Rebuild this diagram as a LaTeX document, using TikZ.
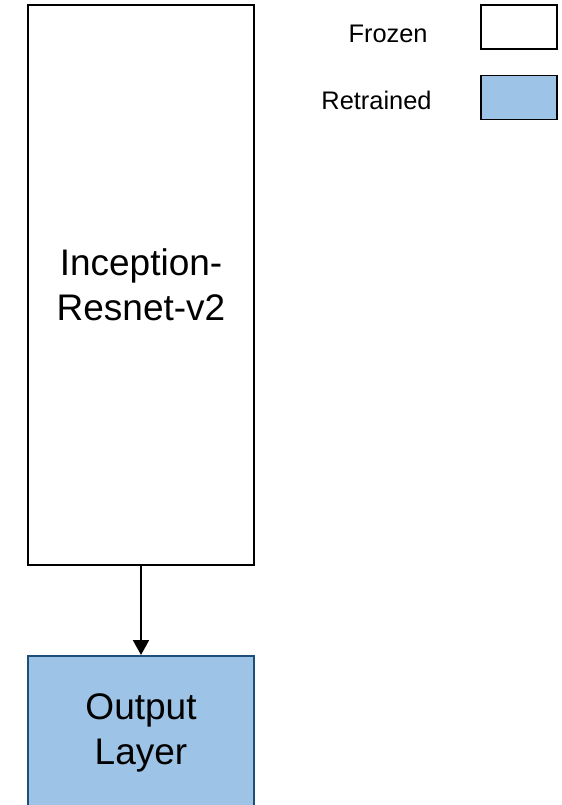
\documentclass[tikz,border=0pt]{standalone}
\usepackage{fontspec}
\setmainfont{Liberation Sans}
\usetikzlibrary{arrows.meta}
\definecolor{RTFill}{HTML}{9DC3E6}
\definecolor{RTEdge}{HTML}{1F4E79}

\begin{document}
\begin{tikzpicture}[
    x=0.5pt, y=-0.5pt,
    layer/.style={draw, line width=1pt, minimum width=113pt, inner sep=0pt, align=center, font=\fontsize{18.5}{22.5}\selectfont},
    legendbox/.style={draw, line width=0.8pt, minimum width=38pt, minimum height=22pt, inner sep=0pt},
    legendtext/.style={anchor=east, inner sep=0pt, font=\fontsize{12.7}{15}\selectfont}
 ]
\def\xMid{141}
\def\xLegend{519}
\useasboundingbox (0,0) rectangle (562,805);

\node[layer, minimum height=280pt] (base) at (\xMid,285) {Inception-\\Resnet-v2};
\node[layer, minimum height=77pt, fill=RTFill, draw=RTEdge] (output) at (\xMid,733) {Output\\Layer};

\draw[-{Triangle[width=8pt,length=7.5pt]}, line width=1pt] (base.south) -- (output.north);

% legend
\node[legendbox] (frozenbox) at (\xLegend,27) {};
\node[legendbox, fill=RTFill] (retrainedbox) at (\xLegend,97.5) {};
\node[legendtext] (frozen) at (428,34) {Frozen};
\node[legendtext] (retrained) at (432,100) {Retrained};

\end{tikzpicture}
\end{document}
